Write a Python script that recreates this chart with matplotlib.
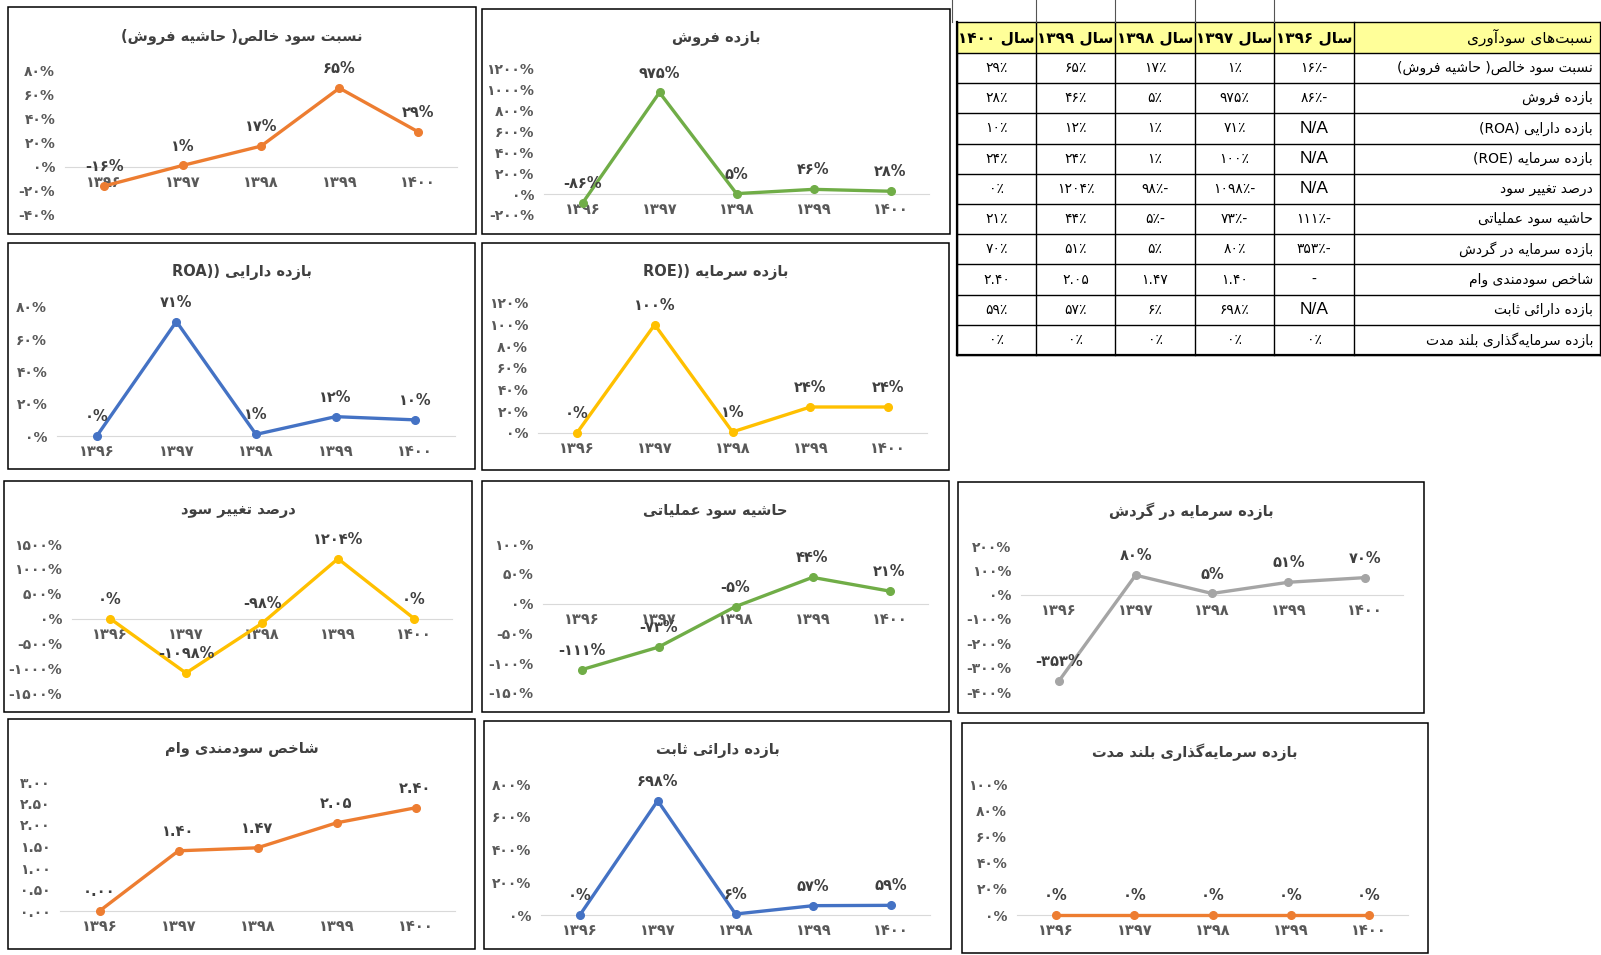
import re
import numpy as np
import matplotlib
matplotlib.use("Agg")
import matplotlib.pyplot as plt
from matplotlib.patches import Rectangle
from matplotlib.lines import Line2D

# ---------------- data ----------------
years = [1396, 1397, 1398, 1399, 1400]

net_margin = [-16, 1, 17, 65, 29]
sales_return = [-86, 975, 5, 46, 28]
roa = [0, 71, 1, 12, 10]
roe = [0, 100, 1, 24, 24]
profit_change = [0, -1098, -98, 1204, 0]
op_margin = [-111, -73, -5, 44, 21]
wc_return = [-353, 80, 5, 51, 70]
loan_index = [0.00, 1.40, 1.47, 2.05, 2.40]
fixed_asset_return = [0, 698, 6, 57, 59]
lt_invest_return = [0, 0, 0, 0, 0]

titles = [
    "نسبت سود خالص( حاشیه فروش)",
    "بازده فروش",
    "بازده دارایی ((ROA",
    "بازده سرمایه ((ROE",
    "درصد تغییر سود",
    "حاشیه سود عملیاتی",
    "بازده سرمایه در گردش",
    "شاخص سودمندی وام",
    "بازده دارائی ثابت",
    "بازده سرمایه‌گذاری بلند مدت",
]

table_header = "نسبت‌های سودآوری"
table_rows = [
    "نسبت سود خالص( حاشیه فروش)",
    "بازده فروش",
    "بازده دارایی (ROA)",
    "بازده سرمایه (ROE)",
    "درصد تغییر سود",
    "حاشیه سود عملیاتی",
    "بازده سرمایه در گردش",
    "شاخص سودمندی وام",
    "بازده دارائی ثابت",
    "بازده سرمایه‌گذاری بلند مدت",
]
# first-year cells that are not numbers in the table
first_year_missing = [None, None, "N/A", "N/A", "N/A", None, None, "-", "N/A", None]

# ---------------- Persian text helpers ----------------
FORMS = {
    'ا': ('\uFE8D', '\uFE8E', None, None),
    'آ': ('\uFE81', '\uFE82', None, None),
    'ب': ('\uFE8F', '\uFE90', '\uFE91', '\uFE92'),
    'ت': ('\uFE95', '\uFE96', '\uFE97', '\uFE98'),
    'ث': ('\uFE99', '\uFE9A', '\uFE9B', '\uFE9C'),
    'ح': ('\uFEA1', '\uFEA2', '\uFEA3', '\uFEA4'),
    'خ': ('\uFEA5', '\uFEA6', '\uFEA7', '\uFEA8'),
    'د': ('\uFEA9', '\uFEAA', None, None),
    'ذ': ('\uFEAB', '\uFEAC', None, None),
    'ر': ('\uFEAD', '\uFEAE', None, None),
    'ز': ('\uFEAF', '\uFEB0', None, None),
    'س': ('\uFEB1', '\uFEB2', '\uFEB3', '\uFEB4'),
    'ش': ('\uFEB5', '\uFEB6', '\uFEB7', '\uFEB8'),
    'ص': ('\uFEB9', '\uFEBA', '\uFEBB', '\uFEBC'),
    'ع': ('\uFEC9', '\uFECA', '\uFECB', '\uFECC'),
    'غ': ('\uFECD', '\uFECE', '\uFECF', '\uFED0'),
    'ف': ('\uFED1', '\uFED2', '\uFED3', '\uFED4'),
    'ل': ('\uFEDD', '\uFEDE', '\uFEDF', '\uFEE0'),
    'م': ('\uFEE1', '\uFEE2', '\uFEE3', '\uFEE4'),
    'ن': ('\uFEE5', '\uFEE6', '\uFEE7', '\uFEE8'),
    'ه': ('\uFEE9', '\uFEEA', '\uFEEB', '\uFEEC'),
    'و': ('\uFEED', '\uFEEE', None, None),
    'ئ': ('\uFE89', '\uFE8A', '\uFE8B', '\uFE8C'),
    'ی': ('\uFBFC', '\uFBFD', '\uFBFE', '\uFBFF'),
    'گ': ('\uFB92', '\uFB93', '\uFB94', '\uFB95'),
}
MIRROR = {'(': ')', ')': '('}
LTR_RE = re.compile(r'[A-Za-z0-9\u06F0-\u06F9][A-Za-z0-9\u06F0-\u06F9.%\u066A]*')


def _shape(s):
    out = []
    for i, ch in enumerate(s):
        if ch not in FORMS:
            if ch != '\u200c':
                out.append(ch)
            continue
        iso, fin, ini, med = FORMS[ch]
        prev = s[i - 1] if i > 0 else ''
        nxt = s[i + 1] if i + 1 < len(s) else ''
        jp = prev in FORMS and FORMS[prev][2] is not None
        jn = nxt in FORMS and ini is not None
        if jp and jn:
            out.append(med)
        elif jp:
            out.append(fin)
        elif jn:
            out.append(ini)
        else:
            out.append(iso)
    return ''.join(out)


def rtl(s):
    shaped = _shape(s)
    pieces, pos = [], 0
    for m in LTR_RE.finditer(shaped):
        if m.start() > pos:
            pieces.append(('R', shaped[pos:m.start()]))
        pieces.append(('L', m.group()))
        pos = m.end()
    if pos < len(shaped):
        pieces.append(('R', shaped[pos:]))
    vis = []
    for kind, txt in reversed(pieces):
        if kind == 'L':
            vis.append(txt)
        else:
            vis.append(''.join(MIRROR.get(c, c) for c in reversed(txt)))
    return ''.join(vis)


FA = str.maketrans('0123456789', '۰۱۲۳۴۵۶۷۸۹')


def fa(s):
    return str(s).translate(FA)


def pct(v):
    return fa(f"{v:.0f}%")


def dec2(v):
    return fa(f"{v:.2f}")


# ---------------- figure ----------------
W, H = 1601, 955
plt.rcParams['font.family'] = ['DejaVu Sans']
fig = plt.figure(figsize=(W / 100, H / 100), dpi=100)
fig.patch.set_facecolor('white')


def fx(x):
    return x / W


def fy(y):
    return 1 - y / H


def frame_rect(x0, y0, x1, y1, lw=1.1, ec='black', fc=None):
    fig.add_artist(Rectangle((fx(x0), fy(y1)), (x1 - x0) / W, (y1 - y0) / H,
                             transform=fig.transFigure, fill=fc is not None,
                             facecolor=fc if fc else 'none', edgecolor=ec,
                             linewidth=lw, zorder=1))


def hline(x0, x1, y, lw=0.9, c='black'):
    fig.add_artist(Line2D([fx(x0), fx(x1)], [fy(y), fy(y)], transform=fig.transFigure,
                          color=c, lw=lw, zorder=3))


def vline(x, y0, y1, lw=0.9, c='black'):
    fig.add_artist(Line2D([fx(x), fx(x)], [fy(y0), fy(y1)], transform=fig.transFigure,
                          color=c, lw=lw, zorder=3))


ORANGE, GREEN, BLUE, GOLD, GRAY = '#ED7D31', '#70AD47', '#4472C4', '#FFC000', '#A5A5A5'

charts = [
    # frame, plot area (x0, ytop, x1, ybottom), values, color, ylim, step, formatter
    ((8, 7, 476, 234), (65, 70, 457, 215), net_margin, ORANGE, (-40, 80), 20, pct),
    ((482, 9, 950, 234), (544, 69, 929, 215), sales_return, GREEN, (-200, 1200), 200, pct),
    ((8, 243, 475, 469), (57, 307, 455, 436), roa, BLUE, (0, 80), 20, pct),
    ((482, 243, 949, 470), (538, 303, 927, 433), roe, GOLD, (0, 120), 20, pct),
    ((4, 481, 472, 712), (72, 544, 452, 693), profit_change, GOLD, (-1500, 1500), 500, pct),
    ((482, 481, 949, 712), (543, 544, 928, 693), op_margin, GREEN, (-150, 100), 50, pct),
    ((958, 482, 1424, 713), (1021, 546, 1403, 692), wc_return, GRAY, (-400, 200), 100, pct),
    ((8, 719, 475, 949), (60, 782, 455, 911), loan_index, ORANGE, (0, 3), 0.5, dec2),
    ((484, 721, 951, 949), (541, 784, 930, 915), fixed_asset_return, BLUE, (0, 800), 200, pct),
    ((962, 723, 1428, 953), (1017, 784, 1408, 915), lt_invest_return, ORANGE, (0, 100), 20, pct),
]

for (frame, plot, values, color, ylim, step, fmt), title in zip(charts, titles):
    x0, y0, x1, y1 = frame
    frame_rect(x0, y0, x1, y1)
    px0, pyt, px1, pyb = plot
    ax = fig.add_axes([fx(px0), fy(pyb), (px1 - px0) / W, (pyb - pyt) / H])
    ax.patch.set_alpha(0)
    n = len(values)
    xs = np.arange(n)
    ax.plot(xs, values, color=color, lw=2.4, marker='o', ms=5.5,
            solid_joinstyle='round', solid_capstyle='round', clip_on=False, zorder=3)
    ax.set_xlim(-0.5, n - 0.5)
    ax.set_ylim(*ylim)
    ticks = np.arange(ylim[0], ylim[1] + step / 2, step)
    ax.set_yticks(ticks)
    ax.set_yticklabels([fmt(t) for t in ticks])
    ax.set_xticks(xs)
    ax.set_xticklabels([fa(y) for y in years])
    for s in ('left', 'right', 'top'):
        ax.spines[s].set_visible(False)
    ax.spines['bottom'].set_position(('data', 0))
    ax.spines['bottom'].set_color('#D9D9D9')
    ax.spines['bottom'].set_linewidth(0.8)
    ax.spines['bottom'].set_zorder(1)
    ax.tick_params(axis='y', length=0, labelsize=10, labelcolor='#595959', pad=7)
    ax.tick_params(axis='x', length=0, labelsize=10.5, labelcolor='#595959', pad=6)
    for lab in ax.get_xticklabels() + ax.get_yticklabels():
        lab.set_fontweight('bold')
    for i, v in enumerate(values):
        ax.annotate(fmt(v), (i, v), xytext=(0, 14), textcoords='offset points',
                    ha='center', va='center', fontsize=10.5, fontweight='bold',
                    color='#404040', zorder=4, annotation_clip=False)
    fig.text(fx((x0 + x1) / 2), fy(y0 + 29), rtl(title), ha='center', va='center',
             fontsize=10.5, fontweight='bold', color='#404040')

# ---------------- table ----------------
series_all = [net_margin, sales_return, roa, roe, profit_change, op_margin,
              wc_return, loan_index, fixed_asset_return, lt_invest_return]
cols = [957, 1036, 1115, 1195, 1274, 1354, 1601]   # 1400 ... 1396, label
head_top, head_bot = 22.5, 53
row_h = 30.2
n_rows = len(table_rows)
tbl_bot = head_bot + n_rows * row_h

frame_rect(cols[0], head_top, cols[-1] - 1, head_bot, lw=0, ec='none', fc='#FFFF99')
for y in [head_top, head_bot] + [head_bot + (k + 1) * row_h for k in range(n_rows)]:
    hline(cols[0], cols[-1], y, lw=1.0)
for x in cols[:-1]:
    vline(x, head_top, tbl_bot, lw=1.0)
vline(cols[-1] - 1, head_top, tbl_bot, lw=1.0)
vline(cols[0], head_top, tbl_bot, lw=1.6)
hline(cols[0], cols[-1], tbl_bot, lw=1.6)
for x in [952, 1036, 1115, 1195, 1274]:
    vline(x, 0, head_top, lw=0.8, c='#555555')

# header cells
year_cols = list(reversed(range(len(years))))  # column index 0 = last year
for ci, yi in enumerate(year_cols):
    cx = (cols[ci] + cols[ci + 1]) / 2
    fig.text(fx(cx), fy((head_top + head_bot) / 2), rtl("سال " + fa(years[yi])),
             ha='center', va='center', fontsize=11, fontweight='bold', color='black')
fig.text(fx(cols[-1] - 8), fy((head_top + head_bot) / 2), rtl(table_header),
         ha='right', va='center', fontsize=11, color='black')


def table_cell(v, is_loan):
    if is_loan:
        return fa(f"{v:.2f}")
    s = fa(f"{abs(v):.0f}") + '\u066A'
    return s + '-' if v < 0 else s


for r, (label, vals) in enumerate(zip(table_rows, series_all)):
    cy = head_bot + (r + 0.5) * row_h
    fig.text(fx(cols[-1] - 8), fy(cy), rtl(label), ha='right', va='center',
             fontsize=10, color='black')
    is_loan = vals is loan_index
    for ci, yi in enumerate(year_cols):
        cx = (cols[ci] + cols[ci + 1]) / 2
        if yi == 0 and first_year_missing[r] is not None:
            txt = first_year_missing[r]
            if txt == "N/A":
                fig.text(fx(cx), fy(cy), txt, ha='center', va='center',
                         fontsize=12.5, family='Liberation Sans', color='black')
            else:
                fig.text(fx(cx), fy(cy), txt, ha='center', va='center',
                         fontsize=10, color='black')
        else:
            fig.text(fx(cx), fy(cy), table_cell(vals[yi], is_loan), ha='center',
                     va='center', fontsize=10, color='black')

fig.savefig("out.png", dpi=100, facecolor='white')
